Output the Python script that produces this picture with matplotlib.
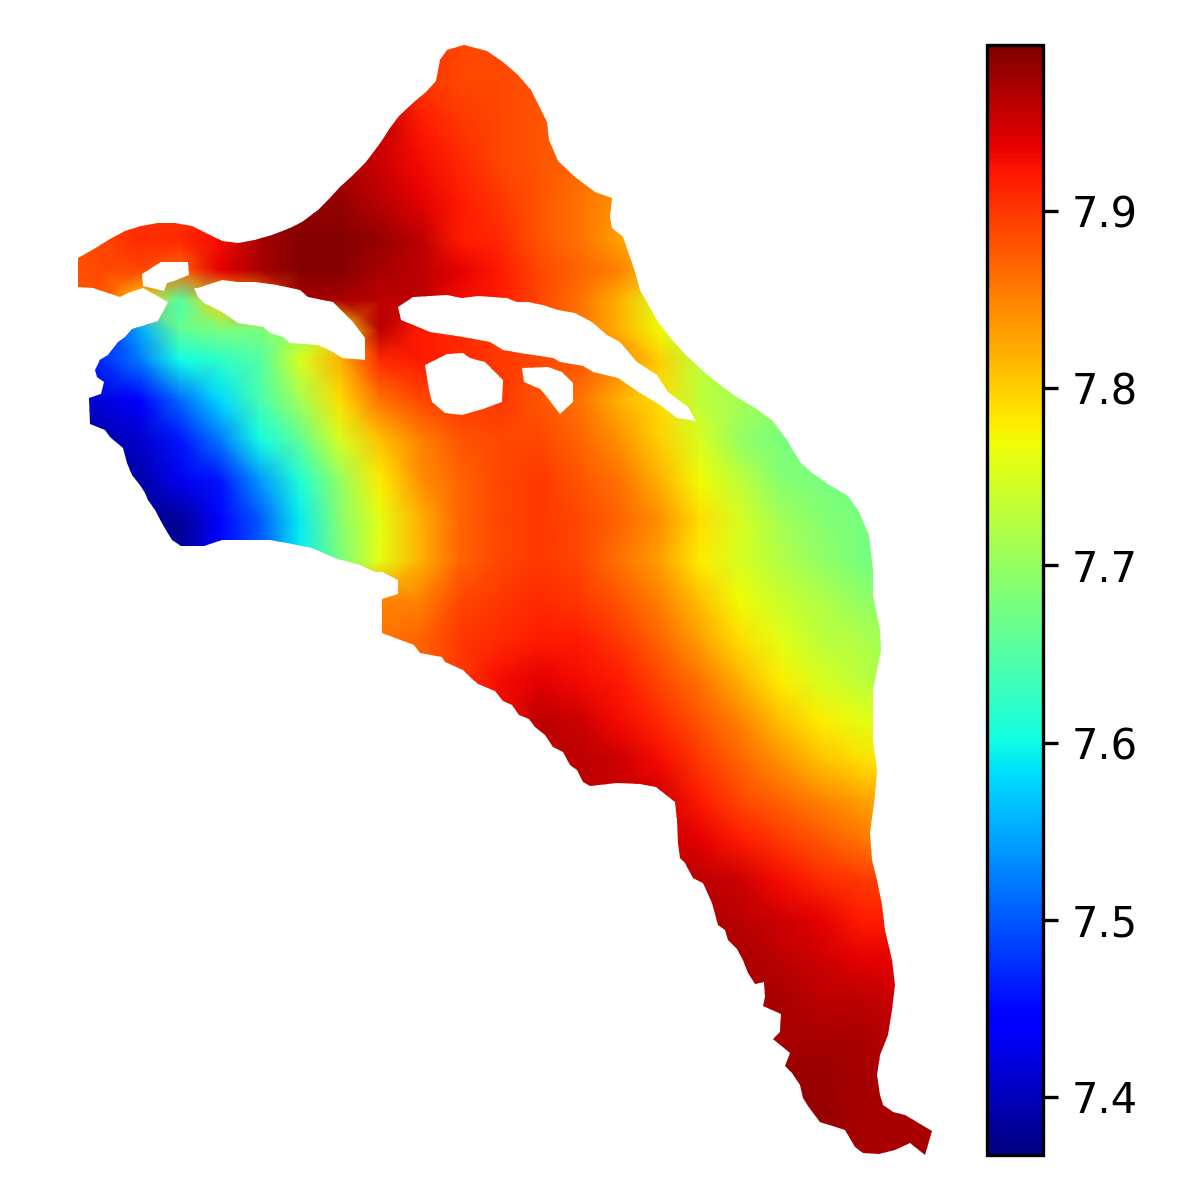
import matplotlib
matplotlib.use('Agg')
import matplotlib.pyplot as plt
import numpy as np
from matplotlib.path import Path
from matplotlib.patches import PathPatch

# grid of the field, values are 7.xx written in hundredths
grid_x = [60, 100, 140, 180, 220, 260, 300, 340, 380, 420, 460, 500, 540, 580, 620, 660, 700, 740, 780, 820, 860, 900, 940]
grid_y = [40, 80, 120, 160, 200, 240, 270, 300, 330, 360, 400, 440, 480, 520, 560, 600, 640, 680, 720, 760, 800, 840, 880, 920, 960, 1000, 1040, 1080, 1120, 1160]
field = [
    [790, 790, 790, 790, 790, 795, 797, 798, 796, 792, 789, 789, 788, 786, 784, 782, 780, 775, 770, 768, 768, 768, 768],
    [790, 790, 790, 790, 790, 795, 797, 798, 796, 790, 789, 789, 788, 786, 784, 782, 780, 775, 770, 768, 768, 768, 768],
    [790, 790, 790, 790, 790, 795, 797, 798, 796, 792, 790, 789, 788, 787, 785, 782, 780, 775, 770, 768, 768, 768, 768],
    [790, 790, 790, 790, 790, 796, 797, 797, 795, 793, 791, 789, 788, 787, 785, 782, 780, 775, 770, 768, 768, 768, 768],
    [790, 790, 790, 790, 792, 797, 798, 798, 796, 794, 792, 790, 788, 786, 784, 781, 778, 775, 770, 768, 768, 768, 768],
    [788, 789, 791, 791, 793, 797, 799, 799, 798, 796, 792, 791, 788, 786, 783, 780, 776, 772, 770, 768, 768, 768, 768],
    [788, 789, 789, 787, 794, 797, 799, 799, 797, 796, 794, 792, 789, 787, 785, 781, 776, 772, 770, 768, 768, 768, 768],
    [788, 788, 780, 765, 780, 785, 797, 797, 796, 796, 793, 792, 789, 786, 782, 775, 770, 770, 768, 768, 768, 768, 768],
    [745, 745, 755, 766, 768, 768, 770, 778, 796, 792, 791, 790, 789, 786, 782, 777, 770, 765, 765, 765, 765, 765, 765],
    [745, 747, 752, 760, 762, 765, 775, 782, 791, 792, 791, 790, 789, 788, 785, 780, 773, 771, 770, 769, 768, 768, 768],
    [738, 742, 744, 751, 758, 764, 771, 779, 786, 789, 790, 790, 788, 786, 782, 779, 773, 771, 770, 769, 768, 768, 768],
    [738, 739, 741, 746, 752, 760, 766, 775, 781, 785, 788, 789, 789, 787, 784, 780, 775, 770, 768, 767, 767, 767, 767],
    [738, 738, 739, 743, 746, 754, 761, 770, 778, 784, 787, 789, 790, 788, 786, 782, 777, 773, 769, 768, 767, 767, 767],
    [738, 738, 738, 738, 744, 750, 759, 769, 776, 782, 787, 789, 790, 789, 787, 784, 779, 775, 771, 769, 768, 767, 767],
    [738, 738, 738, 738, 744, 750, 759, 768, 776, 782, 787, 789, 790, 789, 786, 783, 778, 775, 772, 770, 768, 767, 767],
    [738, 738, 738, 738, 744, 750, 760, 770, 785, 785, 789, 790, 791, 790, 788, 785, 781, 777, 774, 772, 770, 769, 769],
    [738, 738, 738, 738, 744, 750, 760, 770, 786, 787, 790, 791, 792, 792, 790, 787, 783, 779, 776, 773, 772, 770, 770],
    [738, 738, 738, 738, 744, 750, 760, 770, 786, 787, 790, 793, 794, 793, 792, 789, 786, 782, 778, 775, 773, 771, 771],
    [738, 738, 738, 738, 744, 750, 760, 770, 786, 787, 790, 793, 796, 795, 793, 791, 788, 785, 781, 778, 776, 775, 775],
    [738, 738, 738, 738, 744, 750, 760, 770, 786, 787, 790, 793, 796, 796, 795, 793, 790, 787, 784, 781, 779, 778, 778],
    [738, 738, 738, 738, 744, 750, 760, 770, 786, 787, 790, 793, 796, 796, 795, 795, 792, 789, 787, 785, 783, 782, 782],
    [738, 738, 738, 738, 744, 750, 760, 770, 786, 787, 790, 793, 796, 796, 795, 795, 794, 792, 790, 788, 786, 784, 784],
    [738, 738, 738, 738, 744, 750, 760, 770, 786, 787, 790, 793, 796, 796, 796, 797, 796, 795, 793, 791, 790, 789, 789],
    [738, 738, 738, 738, 744, 750, 760, 770, 786, 787, 790, 793, 796, 796, 796, 797, 797, 796, 795, 794, 792, 792, 792],
    [738, 738, 738, 738, 744, 750, 760, 770, 786, 787, 790, 793, 796, 796, 796, 797, 797, 797, 796, 795, 794, 794, 794],
    [738, 738, 738, 738, 744, 750, 760, 770, 786, 787, 790, 793, 796, 796, 796, 797, 797, 797, 797, 796, 796, 795, 795],
    [738, 738, 738, 738, 744, 750, 760, 770, 786, 787, 790, 793, 796, 796, 796, 797, 797, 797, 797, 797, 797, 796, 796],
    [738, 738, 738, 738, 744, 750, 760, 770, 786, 787, 790, 793, 796, 796, 796, 797, 797, 797, 798, 798, 797, 797, 797],
    [738, 738, 738, 738, 744, 750, 760, 770, 786, 787, 790, 793, 796, 796, 796, 797, 797, 797, 798, 798, 797, 797, 797],
    [738, 738, 738, 738, 744, 750, 760, 770, 786, 787, 790, 793, 796, 796, 796, 797, 797, 797, 798, 798, 797, 797, 797],
]

# domain outline and the gaps inside it
outline = [
    (78, 258), (94, 249), (110, 239), (125, 231), (141, 226), (158, 223), (175, 223), (192, 226), (208, 234), (222, 241),
    (238, 243), (255, 240), (272, 235), (290, 228), (302, 222), (318, 210), (328, 200), (340, 187), (352, 176), (366, 162),
    (381, 142), (390, 128), (399, 116), (414, 102), (426, 92), (436, 81), (440, 60), (447, 50), (464, 45), (487, 51),
    (503, 62), (518, 75), (531, 90), (542, 112), (547, 122), (549, 140), (558, 161), (575, 177), (595, 192), (612, 198),
    (610, 217), (612, 228), (623, 237), (630, 257), (635, 272), (640, 290), (658, 322), (672, 340), (686, 355), (704, 372),
    (720, 385), (738, 398), (755, 408), (772, 420), (787, 440), (800, 462), (812, 473), (828, 484), (848, 496), (858, 510),
    (869, 535), (873, 570), (873, 595), (880, 630), (881, 650), (873, 690), (873, 740), (877, 770), (875, 795), (870, 833),
    (872, 860), (877, 880), (882, 905), (885, 930), (892, 960), (895, 985), (892, 1010), (888, 1035), (880, 1055), (877, 1075),
    (880, 1095), (883, 1105), (893, 1112), (905, 1115), (932, 1131), (925, 1155), (910, 1143), (895, 1150), (879, 1154), (863, 1153),
    (855, 1147), (845, 1130), (820, 1122), (808, 1106), (803, 1098), (800, 1085), (792, 1073), (785, 1066), (790, 1053), (773, 1039),
    (780, 1032), (781, 1014), (763, 1006), (765, 997), (764, 982), (755, 984), (748, 973), (743, 960), (737, 949), (728, 940),
    (725, 930), (718, 925), (712, 903), (703, 883), (693, 878), (685, 863), (680, 858), (678, 843), (677, 820), (675, 802),
    (656, 787), (640, 784), (617, 783), (590, 786), (583, 782), (577, 770), (570, 765), (563, 752), (553, 747), (545, 735),
    (535, 727), (529, 719), (519, 715), (512, 705), (503, 701), (495, 691), (478, 684), (470, 677), (463, 670), (445, 662),
    (442, 657), (420, 653), (414, 645), (398, 639), (382, 633), (382, 599), (398, 594), (398, 580), (382, 572), (375, 572),
    (360, 565), (335, 558), (312, 548), (287, 543), (270, 540), (222, 540), (204, 546), (181, 546), (172, 540), (163, 525),
    (155, 510), (148, 500), (145, 493), (140, 485), (132, 475), (127, 463), (123, 448), (110, 437), (105, 430), (90, 424),
    (89, 398), (101, 394), (104, 382), (97, 377), (95, 370), (100, 360), (108, 355), (118, 342), (125, 337), (132, 329),
    (142, 326), (158, 321), (168, 302), (143, 288), (128, 293), (120, 297), (93, 288), (78, 287),
]
hole_small = [(142, 274), (161, 262), (188, 262), (189, 275), (174, 281), (167, 283), (164, 291), (143, 286)]
hole_left = [
    (204, 303), (198, 297), (194, 288), (198, 288), (222, 280), (238, 282), (255, 282), (277, 285), (300, 290), (308, 297),
    (333, 302), (353, 322), (365, 338), (365, 360), (342, 358), (333, 352), (318, 345), (290, 343), (283, 337), (270, 333),
    (263, 327), (238, 323), (222, 312),
]
hole_long = [
    (398, 307), (413, 297), (447, 295), (462, 298), (478, 296), (507, 298), (517, 302), (528, 302), (543, 305), (558, 310),
    (575, 313), (592, 322), (607, 335), (620, 342), (637, 362), (657, 375), (668, 392), (688, 407), (696, 421), (677, 418),
    (660, 405), (640, 393), (618, 378), (593, 372), (583, 366), (560, 362), (553, 358), (520, 353), (503, 350), (490, 342),
    (463, 337), (430, 332), (401, 320),
]
hole_round = [
    (425, 365), (447, 354), (463, 353), (470, 358), (485, 362), (503, 380), (502, 402), (483, 409), (462, 415), (445, 413),
    (432, 402), (429, 390),
]
hole_notch = [(522, 368), (548, 367), (562, 372), (573, 383), (573, 402), (560, 414), (543, 392), (540, 389), (524, 382)]

cbar_ticks = [7.4, 7.5, 7.6, 7.7, 7.8, 7.9]
vmin = 7.367
vmax = 7.994


def ring_area(ring):
    pts = np.array(ring, dtype=float)
    x, y = pts[:, 0], pts[:, 1]
    return 0.5 * np.sum(x * np.roll(y, -1) - np.roll(x, -1) * y)


def domain_path():
    # holes run the other way round so the clip leaves them empty
    verts = []
    codes = []
    sign = np.sign(ring_area(outline))
    for i, ring in enumerate([outline, hole_small, hole_left, hole_long, hole_round, hole_notch]):
        if i > 0 and np.sign(ring_area(ring)) == sign:
            ring = ring[::-1]
        verts += list(ring) + [ring[0]]
        codes += [Path.MOVETO] + [Path.LINETO] * (len(ring) - 1) + [Path.CLOSEPOLY]
    return Path(verts, codes)


fig = plt.figure(figsize=(4, 4), dpi=300)
ax = fig.add_axes([0, 0, 0.8, 1])
ax.set_xlim(0, 960)
ax.set_ylim(1200, 0)
ax.axis('off')

X, Y = np.meshgrid(grid_x, grid_y)
C = np.array(field) / 100
mesh = ax.pcolormesh(X, Y, C, shading='gouraud', cmap='jet', vmin=vmin, vmax=vmax)

clip = PathPatch(domain_path(), transform=ax.transData, facecolor='none', edgecolor='none')
ax.add_patch(clip)
mesh.set_clip_path(clip)

cax = fig.add_axes([986.5 / 1200, 45 / 1200, 56 / 1200, 1110 / 1200])
cbar = fig.colorbar(mesh, cax=cax)
cbar.set_ticks(cbar_ticks)

plt.savefig('out.png', dpi=300)
plt.close()
